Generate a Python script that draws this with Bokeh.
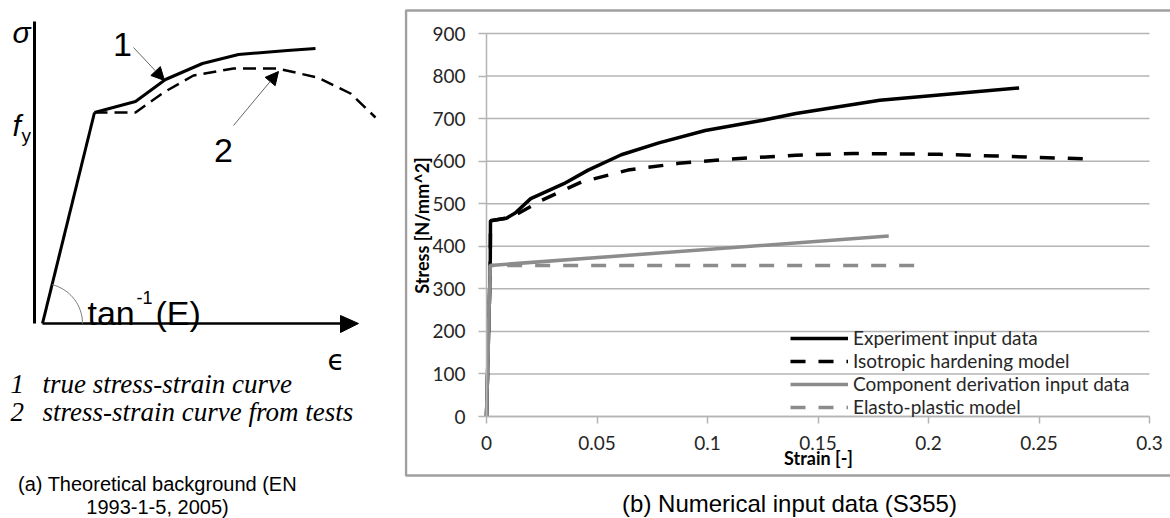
import math
import numpy as np
from bokeh.plotting import figure
from bokeh.models import Range1d, FixedTicker, Legend, LegendItem, Arrow, NormalHead
from bokeh.layouts import row
from bokeh.core.properties import value
from bokeh.embed import file_html
from bokeh.resources import INLINE

# ---------------- data: (b) numerical input data ----------------
exp_strain = [0, 0.0017, 0.0018, 0.009, 0.013, 0.02, 0.035, 0.046, 0.061, 0.078, 0.099, 0.125, 0.14, 0.178, 0.241]
exp_stress = [0, 355, 460, 466, 478, 512, 547, 579, 615, 643, 672, 696, 712, 743, 772]
iso_strain = [0, 0.0017, 0.0018, 0.009, 0.014, 0.025, 0.043, 0.064, 0.087, 0.11, 0.14, 0.166, 0.205, 0.231, 0.273]
iso_stress = [0, 355, 460, 466, 476, 508, 551, 579, 595, 605, 614, 618, 616, 612, 605]
comp_strain = [0, 0.0017, 0.182]
comp_stress = [0, 355, 424]
ep_strain = [0, 0.0017, 0.195]
ep_stress = [0, 355, 355]
series_names = ["Experiment input data", "Isotropic hardening model",
                "Component derivation input data", "Elasto-plastic model"]
x_ticks = [0, 0.05, 0.1, 0.15, 0.2, 0.25, 0.3]
x_tick_labels = ["0", "0.05", "0.1", "0.15", "0.2", "0.25", "0.3"]
y_ticks = [0, 100, 200, 300, 400, 500, 600, 700, 800, 900]

# ---------------- data: (a) schematic (drawing units) ----------------
elastic_x = [42, 94]
elastic_y = [323, 112]
true_x = [94, 135, 165, 202, 238, 287, 315]
true_y = [112, 101, 79, 63, 54, 50, 48]
test_x = [94, 135, 163, 193, 233, 277, 317, 350, 375]
test_y = [112, 112, 92, 75, 68, 68, 77, 93, 117]

GRAY = "#8c8c8c"
GRID = "#b4b4b4"
FRAME = "#a0a0a0"
TXT = "#262626"
FONT = "Lato"

W, H = 1170, 518
SPLIT = 404


def ftext(p, x, y, t, size, font="Liberation Sans", style="normal", align="left",
          baseline="alphabetic", color="black", angle=0):
    p.text(x=[x], y=[y], text=[t], text_font=value(font), text_font_size=f"{size}px",
           text_font_style=style, text_align=align, text_baseline=baseline,
           text_color=color, angle=angle)


# ================= left panel (a) =================
fa = figure(width=SPLIT, height=H, x_range=Range1d(0, SPLIT), y_range=Range1d(H, 0),
            x_axis_type=None, y_axis_type=None, toolbar_location=None,
            output_backend="svg", min_border=0, outline_line_color=None)
fa.grid.visible = False

fa.line([34, 34], [21, 323], line_color="black", line_width=3)
fa.line([42, 344], [323, 323], line_color="black", line_width=2.5)
fa.patch([340, 358, 340], [315, 323, 332], fill_color="black", line_color="black")
fa.line(elastic_x, elastic_y, line_color="black", line_width=3)
fa.line(true_x, true_y, line_color="black", line_width=3)
fa.line(test_x, test_y, line_color="black", line_width=2.5, line_dash="13 7")

ang = math.atan2(elastic_y[0] - elastic_y[1], elastic_x[1] - elastic_x[0])
th = np.linspace(0, ang, 30)
fa.line(42 + 40 * np.cos(th), 323 - 40 * np.sin(th), line_color="#777777", line_width=1)

fa.add_layout(Arrow(end=NormalHead(size=13, fill_color="black", line_color="black"),
                    x_start=133, y_start=47, x_end=164, y_end=80,
                    line_color="#666666", line_width=1))
fa.add_layout(Arrow(end=NormalHead(size=13, fill_color="black", line_color="black"),
                    x_start=233, y_start=125, x_end=278, y_end=71,
                    line_color="#666666", line_width=1))

ftext(fa, 12, 32, "σ", 30, style="italic")
ftext(fa, 12, 125, "f", 30, style="italic")
ftext(fa, 21, 135, "y", 19)
ftext(fa, 122, 44, "1", 34, align="center")
ftext(fa, 223, 150, "2", 34, align="center")
ftext(fa, 87, 312, "tan", 34)
ftext(fa, 136, 297, "-1", 18)
ftext(fa, 155, 312, "(E)", 34)
ftext(fa, 327, 360, "ϵ", 28, font="DejaVu Sans")
ftext(fa, 10, 383, "1", 27, font="Liberation Serif", style="italic")
ftext(fa, 42, 383, "true stress-strain curve", 27, font="Liberation Serif", style="italic")
ftext(fa, 10, 411, "2", 27, font="Liberation Serif", style="italic")
ftext(fa, 42, 411, "stress-strain curve from tests", 27, font="Liberation Serif", style="italic")
ftext(fa, 157, 483, "(a) Theoretical background (EN", 20, align="center", baseline="middle")
ftext(fa, 157, 506, "1993-1-5, 2005)", 20, align="center", baseline="middle")

# ================= right panel (b) =================
PX0, PX1, PY0, PY1 = 486, 1149, 416, 33   # plot area in page pixels
def px2x(px):
    return (px - PX0) * 0.3 / (PX1 - PX0)
def py2y(py):
    return (PY0 - py) * 900 / (PY0 - PY1)

fb = figure(width=W - SPLIT, height=H,
            x_range=Range1d(px2x(SPLIT), px2x(W)), y_range=Range1d(py2y(H), py2y(0)),
            toolbar_location=None, output_backend="svg", min_border=0,
            outline_line_color=None, background_fill_color="white")
fb.grid.visible = False

# horizontal gridlines at the y ticks, limited to the plot area
fb.segment(x0=[x_ticks[0]] * len(y_ticks), x1=[x_ticks[-1]] * len(y_ticks),
           y0=y_ticks, y1=y_ticks, line_color=GRID, line_width=1.5)

fb.xaxis.ticker = FixedTicker(ticks=x_ticks)
fb.xaxis.major_label_overrides = {t: l for t, l in zip(x_ticks, x_tick_labels)}
fb.xaxis.fixed_location = 0
fb.xaxis.bounds = (x_ticks[0], x_ticks[-1])
fb.yaxis.ticker = FixedTicker(ticks=y_ticks)
fb.yaxis.fixed_location = 0
fb.yaxis.bounds = (y_ticks[0], y_ticks[-1])
for ax, tout, stand in ((fb.xaxis, 7, 12), (fb.yaxis, 8, 13)):
    ax.axis_line_color = GRID
    ax.axis_line_width = 1.5
    ax.major_tick_line_color = GRID
    ax.major_tick_line_width = 1.5
    ax.major_tick_out = tout
    ax.major_tick_in = 0
    ax.minor_tick_line_color = None
    ax.major_label_text_font = FONT
    ax.major_label_text_font_size = "19px"
    ax.major_label_text_color = TXT
    ax.major_label_standoff = stand

r1 = fb.line(exp_strain, exp_stress, line_color="black", line_width=3.5)
r2 = fb.line(iso_strain, iso_stress, line_color="black", line_width=3.5, line_dash="15 13")
r3 = fb.line(comp_strain, comp_stress, line_color=GRAY, line_width=3.5)
r4 = fb.line(ep_strain, ep_stress, line_color=GRAY, line_width=3.5, line_dash="15 13")

legend = Legend(items=[LegendItem(label=n, renderers=[r]) for n, r in zip(series_names, [r1, r2, r3, r4])],
                location=(790 - SPLIT, H - 418), orientation="vertical",
                glyph_width=58, glyph_height=22, label_height=22, label_standoff=5,
                spacing=0, padding=0, margin=0,
                border_line_color=None, background_fill_alpha=0,
                label_text_font=FONT, label_text_font_size="19px", label_text_color=TXT)
fb.add_layout(legend, "center")

ftext(fb, px2x(421), py2y(225), "Stress [N/mm^2]", 18, font=FONT, style="bold",
      align="center", baseline="middle", angle=math.pi / 2)
ftext(fb, px2x(818), py2y(457), "Strain [-]", 18, font=FONT, style="bold",
      align="center", baseline="middle")
ftext(fb, px2x(789), py2y(503), "(b) Numerical input data (S355)", 24,
      align="center", baseline="middle")

# outer frame of panel (b)
fb.line([px2x(W + 5), px2x(SPLIT + 1.5), px2x(SPLIT + 1.5), px2x(W + 5)],
        [py2y(10), py2y(10), py2y(475), py2y(475)], line_color=FRAME, line_width=2.5)

layout = row(fa, fb)
open("out.html", "w").write(file_html(layout, INLINE))
